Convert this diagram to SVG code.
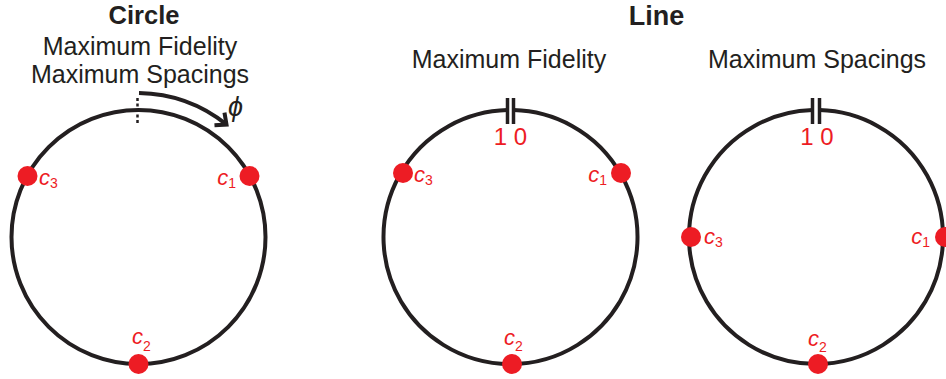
<svg xmlns="http://www.w3.org/2000/svg" width="946" height="379" viewBox="0 0 946 379">
<defs>
<style>
.ring{fill:none;stroke:#231F20;stroke-width:4}
.bar{stroke:#231F20;stroke-width:3.5}
.dot{fill:#ED1C24}
.title{font-family:"Liberation Sans",Arial,sans-serif;font-weight:bold;fill:#231F20;text-anchor:middle}
.sub{font-family:"Liberation Sans",Arial,sans-serif;font-size:25px;fill:#231F20;text-anchor:middle}
.num{font-family:"Liberation Sans",Arial,sans-serif;font-size:24px;fill:#ED1C24;text-anchor:middle}
.lbl{font-family:"Liberation Sans",Arial,sans-serif;font-size:22px;fill:#ED1C24;font-style:italic}
.idx{font-size:14px;font-style:normal}
</style>
<marker id="ah" markerUnits="userSpaceOnUse" markerWidth="24" markerHeight="24" viewBox="-12 -12 24 24" refX="0" refY="0" orient="auto">
<path d="M-9,-8 L0,0 L-9,8" fill="none" stroke="#231F20" stroke-width="4"/>
</marker>
</defs>
<rect width="946" height="379" fill="#fff"/>

<g id="titles">
<text class="title" x="144" y="24" font-size="25.5">Circle</text>
<text class="sub" x="140" y="55">Maximum Fidelity</text>
<text class="sub" x="140" y="83">Maximum Spacings</text>
<text class="title" x="656.5" y="24.5" font-size="27">Line</text>
<text class="sub" x="509" y="68">Maximum Fidelity</text>
<text class="sub" x="817" y="68">Maximum Spacings</text>
</g>

<g id="circle-ring">
<circle class="ring" cx="138.5" cy="237" r="127"/>
<line x1="137.5" y1="98" x2="137.5" y2="124" stroke="#231F20" stroke-width="2.5" stroke-dasharray="3,2.5"/>
<path d="M139,93 A144,144 0 0 1 226.5,124.5" fill="none" stroke="#231F20" stroke-width="4" marker-end="url(#ah)"/>
<text x="228" y="116" font-family="Liberation Sans,Arial,sans-serif" font-size="27" font-style="italic" fill="#231F20">ϕ</text>
</g>
<g id="circle-c1"><circle class="dot" cx="249.5" cy="176" r="10"/><text class="lbl" x="236" y="185" text-anchor="end">c<tspan class="idx" dy="3">1</tspan></text></g>
<g id="circle-c2"><circle class="dot" cx="138.5" cy="364" r="10"/><text class="lbl" x="132" y="344">c<tspan class="idx" dy="7">2</tspan></text></g>
<g id="circle-c3"><circle class="dot" cx="27.5" cy="176" r="10"/><text class="lbl" x="39" y="185">c<tspan class="idx" dy="3">3</tspan></text></g>

<g id="fidelity-ring">
<path class="ring" d="M507.5,110.1 A127,127 0 1 0 513.5,110.1"/>
<line class="bar" x1="507.5" y1="98" x2="507.5" y2="124"/>
<line class="bar" x1="513.5" y1="98" x2="513.5" y2="124"/>
<text class="num" x="510.5" y="145">1 0</text>
</g>
<g id="fidelity-c1"><circle class="dot" cx="621" cy="173" r="10"/><text class="lbl" x="607" y="182" text-anchor="end">c<tspan class="idx" dy="3">1</tspan></text></g>
<g id="fidelity-c2"><circle class="dot" cx="512" cy="364" r="10"/><text class="lbl" x="504" y="345">c<tspan class="idx" dy="6">2</tspan></text></g>
<g id="fidelity-c3"><circle class="dot" cx="403" cy="173" r="10"/><text class="lbl" x="414" y="182">c<tspan class="idx" dy="3">3</tspan></text></g>

<g id="spacings-ring">
<path class="ring" d="M812.5,110.1 A127,127 0 1 0 819.5,110.1"/>
<line class="bar" x1="812.5" y1="98" x2="812.5" y2="124"/>
<line class="bar" x1="819.5" y1="98" x2="819.5" y2="124"/>
<text class="num" x="817" y="145">1 0</text>
</g>
<g id="spacings-c1"><circle class="dot" cx="945" cy="237" r="10"/><text class="lbl" x="930" y="244" text-anchor="end">c<tspan class="idx" dy="3">1</tspan></text></g>
<g id="spacings-c2"><circle class="dot" cx="818" cy="364" r="10"/><text class="lbl" x="808" y="346">c<tspan class="idx" dy="6">2</tspan></text></g>
<g id="spacings-c3"><circle class="dot" cx="691" cy="237" r="10"/><text class="lbl" x="704" y="244">c<tspan class="idx" dy="3">3</tspan></text></g>
</svg>
